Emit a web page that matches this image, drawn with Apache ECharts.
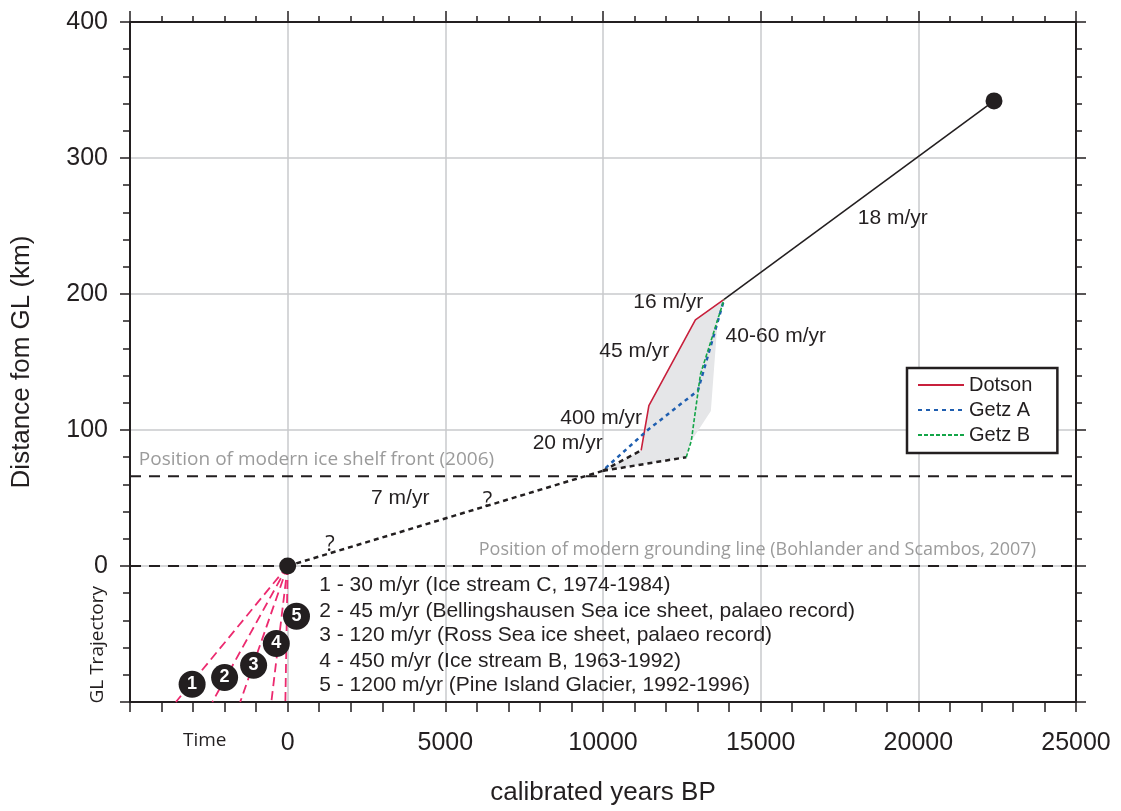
<!DOCTYPE html>
<html>
<head>
<meta charset="utf-8">
<script src="https://cdn.jsdelivr.net/npm/echarts@6/dist/echarts.min.js"></script>
<style>
  html, body { margin: 0; padding: 0; background: #fff; }
  #chart { width: 1121px; height: 811px; }
</style>
</head>
<body>
<div id="chart"></div>
<script>
/* GL retreat trajectory: calibrated years BP vs distance from grounding line.
   Everything is drawn in data space; text notes are label-only scatter points. */
const INK = "#231f20", GRID = "#c9cacd", NOTE = "#9b9b9b";
const SANS = "'Liberation Sans', Arial, sans-serif";
const MYRIAD = "'Open Sans', 'Noto Sans', sans-serif";

// reconstructed retreat paths [years BP, km]
const dotson = [[11210, 85], [11455, 118], [12930, 181], [13840, 196]];
const getzA = [[10080, 72], [11420, 100], [13010, 129], [13840, 196]];
const getzB = [[12640, 80], [12800, 92], [13090, 141], [13840, 196]];
const envelope = [[10000, 70], [11210, 85], [11455, 118], [12930, 181], [13840, 196],
  [13650, 185], [13420, 114], [12800, 92], [12640, 80]];
const outerShelf = [[13840, 196], [22400, 342]];        // 18 m/yr
const innerShelf = [[0, 0], [10000, 70]];                // 7 m/yr (uncertain)
const linkDotson = [[10000, 70], [11210, 85]];
const linkGetzB = [[10000, 70], [12640, 80]];
const endpoints = [[0, 0], [22400, 342]];

// reference lines (km)
const shelfFront = 66, groundingLine = 0;

// modern retreat-rate analogues, x at the bottom edge (y = -100)
const analogueEnds = [-3545, -2390, -1505, -518, -73];
const analogueBadges = [[-3030, -87, "1"], [-2000, -82, "2"], [-1080, -73, "3"], [-360, -57, "4"], [280, -37, "5"]];
const analogueText = [
  [1000, -14, "1 - 30 m/yr (Ice stream C, 1974-1984)"],
  [1000, -33, "2 - 45 m/yr (Bellingshausen Sea ice sheet, palaeo record)"],
  [1000, -51, "3 - 120 m/yr (Ross Sea ice sheet, palaeo record)"],
  [1000, -70, "4 - 450 m/yr (Ice stream B, 1963-1992)"],
  [1000, -88, "5 - 1200 m/yr (Pine Island Glacier, 1992-1996)"],
];

// rate annotations [x, y, text]
const rateNotes = [
  [19190, 256, "18 m/yr"], [12070, 194, "16 m/yr"], [10990, 158, "45 m/yr"],
  [15480, 169, "40-60 m/yr"], [9940, 109, "400 m/yr"], [8880, 90, "20 m/yr"],
  [3570, 50, "7 m/yr"],
];
const queries = [[1340, 16], [6340, 48]];
const frontNote = [-4720, 78, "Position of modern ice shelf front (2006)"];
const glNote = [23730, 12, "Position of modern grounding line (Bohlander and Scambos, 2007)"];

const X_MIN = -5000, X_MAX = 25000, Y_MIN = -100, Y_MAX = 400;

const hline = (y) => [[X_MIN, y], [X_MAX, y]];
const textSeries = (data, pos, style) => ({
  type: "scatter", symbolSize: 0, silent: true, z: 6,
  itemStyle: { opacity: 1 },
  data: data.map((d) => ({ value: [d[0], d[1]], name: d[2] })),
  label: Object.assign({ show: true, position: pos, distance: 0, formatter: "{b}",
    color: INK, fontFamily: SANS, fontSize: 21 }, style || {}),
});
const path = (data, color, width, type, extra) => Object.assign({
  type: "line", data, symbol: "none", silent: true,
  itemStyle: { color }, lineStyle: { color, width, type },
}, extra || {});
const tick = (len) => ({ length: len, lineStyle: { color: INK, width: 1.5 } });
const axisLine = { onZero: false, lineStyle: { color: INK, width: 2 } };

const chart = echarts.init(document.getElementById("chart"));
chart.setOption({
  animation: false,
  grid: { left: 130, right: 45, top: 22, bottom: 109, outerBoundsMode: "none" },
  legend: {
    left: 907, top: 368, orient: "vertical", itemWidth: 46, itemHeight: 14, itemGap: 5,
    padding: [7, 25, 8, 10], borderColor: INK, borderWidth: 2.5, backgroundColor: "#fff",
    itemStyle: { opacity: 0 },
    textStyle: { fontFamily: SANS, fontSize: 20, color: INK },
    data: ["Dotson", "Getz A", "Getz B"],
  },
  xAxis: [
    { type: "value", min: X_MIN, max: X_MAX, interval: 5000,
      name: "calibrated years BP", nameLocation: "middle", nameGap: 78,
      nameTextStyle: { fontFamily: SANS, fontSize: 26, color: INK },
      axisLine, axisTick: tick(10),
      minorTick: Object.assign({ show: true, splitNumber: 5 }, tick(10)),
      axisLabel: { margin: 29, fontFamily: SANS, fontSize: 25, color: INK,
        formatter: (v) => (v < 0 ? "" : String(v)) },
      splitLine: { show: true, lineStyle: { color: GRID, width: 1.5 } } },
    { type: "value", position: "top", min: X_MIN, max: X_MAX, interval: 5000,
      axisLine, axisTick: tick(11),
      minorTick: Object.assign({ show: true, splitNumber: 5 }, tick(6)),
      axisLabel: { show: false }, splitLine: { show: false } },
  ],
  yAxis: [
    { type: "value", min: Y_MIN, max: Y_MAX, interval: 100,
      name: "Distance fom GL (km)", nameLocation: "middle", nameGap: 95,
      nameTextStyle: { fontFamily: SANS, fontSize: 26, color: INK },
      axisLine, axisTick: tick(10),
      minorTick: Object.assign({ show: true, splitNumber: 5 }, tick(7)),
      axisLabel: { margin: 22, fontFamily: SANS, fontSize: 25, color: INK,
        formatter: (v) => (v < 0 ? "" : String(v)) },
      splitLine: { show: true, lineStyle: { color: GRID, width: 1.5 } } },
    { type: "value", position: "right", min: Y_MIN, max: Y_MAX, interval: 100,
      axisLine, axisTick: tick(10),
      minorTick: Object.assign({ show: true, splitNumber: 5 }, tick(6)),
      axisLabel: { show: false }, splitLine: { show: false } },
  ],
  graphic: [
    { type: "text", left: 88, top: 586, rotation: Math.PI / 2, silent: true,
      style: { text: "GL Trajectory", font: "19px " + MYRIAD, fill: INK } },
    { type: "text", left: 183, top: 731, silent: true,
      style: { text: "Time", font: "19px " + MYRIAD, fill: INK } },
  ],
  series: [
    { type: "custom", silent: true, z: 1, data: [0],
      renderItem: (params, api) => ({
        type: "polygon",
        shape: { points: envelope.map((p) => api.coord(p)) },
        style: { fill: "#e5e6e8" },
      }) },
    path(hline(shelfFront), INK, 2, [11, 8]),
    path(hline(groundingLine), INK, 2, [11, 8]),
    ...analogueEnds.map((x) => path([[0, 0], [x, Y_MIN]], "#ec2a6f", 1.8, [9, 5])),
    path(innerShelf, INK, 2.5, [5, 4]),
    path(linkDotson, INK, 2.5, [5, 4]),
    path(linkGetzB, INK, 2.5, [5, 4]),
    path(outerShelf, INK, 1.6, "solid"),
    path(dotson, "#c8203c", 1.6, "solid", { name: "Dotson", z: 4 }),
    path(getzA, "#1f5fb0", 2.5, [4, 4], { name: "Getz A", z: 4 }),
    path(getzB, "#14a548", 1.6, [4, 2], { name: "Getz B", z: 4 }),
    { type: "scatter", data: endpoints, symbolSize: 17, silent: true, z: 7,
      itemStyle: { color: INK, opacity: 1 } },
    { type: "scatter", symbolSize: 27, silent: true, z: 7,
      data: analogueBadges.map((d) => ({ value: [d[0], d[1]], name: d[2] })),
      itemStyle: { color: INK, opacity: 1 },
      label: { show: true, position: "inside", formatter: "{b}", color: "#fff",
        fontFamily: SANS, fontWeight: "bold", fontSize: 18 } },
    textSeries(rateNotes, "inside"),
    textSeries(queries.map((q) => [q[0], q[1], "?"]), "inside", { fontFamily: MYRIAD, fontSize: 22 }),
    textSeries(analogueText, "right"),
    textSeries([frontNote], "right", { fontFamily: MYRIAD, fontSize: 19, color: NOTE }),
    textSeries([glNote], "left", { fontFamily: MYRIAD, fontSize: 18, color: NOTE }),
  ],
});
</script>
</body>
</html>
